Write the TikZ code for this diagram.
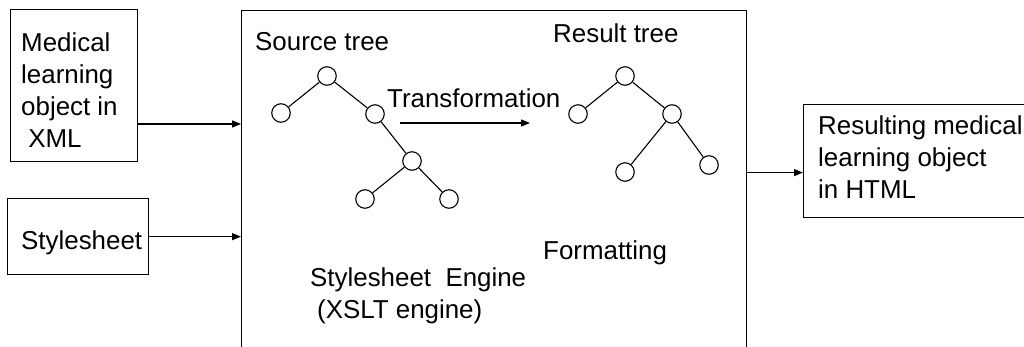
\documentclass[tikz,border=0pt]{standalone}
\usepackage{fontspec}
\setmainfont{Liberation Sans}
\usetikzlibrary{arrows.meta,calc}
\begin{document}
\begin{tikzpicture}[x=1pt,y=-1pt,
  every node/.style={font=\fontsize{25.9}{32}\selectfont},
  box/.style={draw, line width=1.3pt, rectangle, inner sep=0pt, anchor=north west},
  lbl/.style={inner sep=0pt, anchor=base west},
  mlbl/.style={inner sep=0pt, anchor=north west, align=left},
  tn/.style={draw, circle, line width=1.1pt, minimum size=18.5pt, inner sep=0pt},
  edge/.style={line width=1.1pt},
  arr/.style={line width=1.3pt, -{Triangle[length=9pt,width=7pt]}}]
\useasboundingbox (0,0) rectangle (1024,346);
% boxes
\node[box, minimum width=127pt, minimum height=152pt] (med) at (10,9) {};
\node[mlbl] (medt) at (21,32.3) {Medical\\learning\\object in\\\ XML};
\node[box, minimum width=141pt, minimum height=76pt] (style) at (7,198) {};
\node[lbl] (stylet) at (21,249) {Stylesheet};
\node[box, minimum width=505pt, minimum height=360pt] (engine) at (241,9.5) {};
\node[box, minimum width=240pt, minimum height=113pt] (out) at (803,104) {};
\node[mlbl] (outt) at (818,115.5) {Resulting medical\\learning object\\in HTML};
% labels inside engine
\node[lbl] (srcl) at (255,50.3) {Source tree};
\node[lbl] (resl) at (553,42) {Result tree};
\node[lbl] (trl) at (387,107.3) {Transformation};
\node[lbl] (fml) at (543,259.3) {Formatting};
\node[lbl] (eng1) at (310,286.7) {Stylesheet\ \ Engine};
\node[lbl] (eng2) at (317,318.3) {(XSLT engine)};
% source tree
\node[tn] (s0) at (327,76) {};
\node[tn] (s1) at (281,113) {};
\node[tn] (s2) at (375,114) {};
\node[tn] (s3) at (412,161) {};
\node[tn] (s4) at (365,199) {};
\node[tn] (s5) at (449,199) {};
\draw[edge] (s0) -- (s1);
\draw[edge] (s0) -- (s2);
\draw[edge] (s2) -- (s3);
\draw[edge] (s3) -- (s4);
\draw[edge] (s3) -- (s5);
% result tree
\node[tn] (r0) at (625,76) {};
\node[tn] (r1) at (578,114) {};
\node[tn] (r2) at (672,114) {};
\node[tn] (r3) at (625,172) {};
\node[tn] (r4) at (709,165) {};
\draw[edge] (r0) -- (r1);
\draw[edge] (r0) -- (r2);
\draw[edge] (r2) -- (r3);
\draw[edge] (r2) -- (r4);
% transformation arrow
\coordinate (ta) at (400,123);
\coordinate (tb) at (530,123);
\draw[arr] (ta) -- (tb);
% connectors
\coordinate (m1) at ($(med.north east)!0.75!(med.south east)$);
\draw[arr] (m1) -- (m1 -| engine.west);
\draw[arr] (style.east) -- (style.east -| engine.west);
\coordinate (o1) at ($(out.north west)!0.6!(out.south west)$);
\draw[arr] (o1 -| engine.east) -- (o1);
\end{tikzpicture}
\end{document}
